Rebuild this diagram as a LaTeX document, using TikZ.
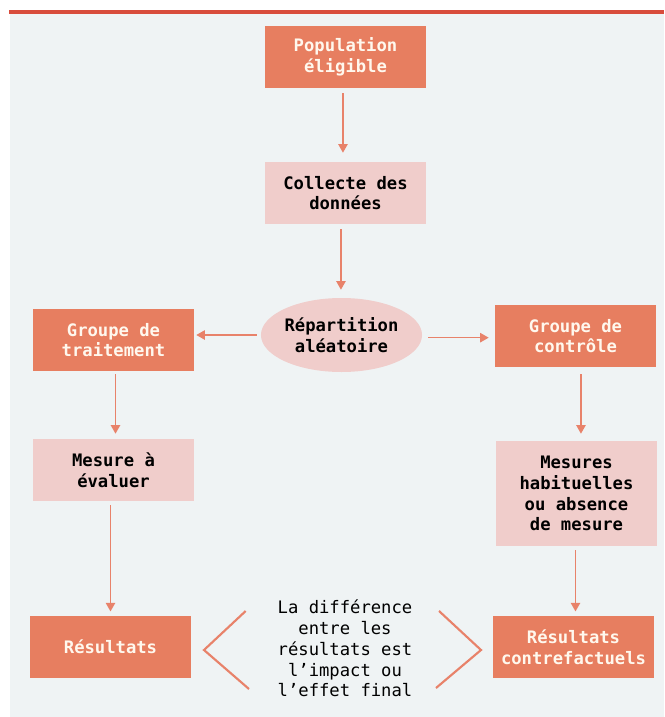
\documentclass[tikz,border=0pt]{standalone}
\usepackage{fontspec}
\setmonofont{DejaVu Sans Mono}
\usetikzlibrary{arrows.meta,shapes.geometric,calc}
\definecolor{orfill}{HTML}{E77E60}
\definecolor{pkfill}{HTML}{F0CDCB}
\definecolor{bgcol}{HTML}{EFF3F4}
\definecolor{redline}{HTML}{D84C3C}
\definecolor{cream}{HTML}{FFF8EE}
\definecolor{arrcol}{HTML}{E8826A}
\tikzset{
  basebox/.style={rectangle, inner sep=0pt, align=center, minimum width=120.75pt, minimum height=46.5pt,
    font=\ttfamily\bfseries\fontsize{12.9}{15.6}\selectfont},
  orbox/.style={basebox, fill=orfill, text=cream},
  pkbox/.style={basebox, fill=pkfill, text=black},
  arr/.style={draw=arrcol, line width=1.2pt, -{Triangle[width=7pt,length=6.5pt]}},
  chev/.style={draw=arrcol, line width=1.6pt},
}
\begin{document}
\begin{tikzpicture}[x=0.75pt,y=-0.75pt]
\useasboundingbox (0,0) rectangle (664,717);
\fill[bgcol] (10,14) rectangle (664,717);
\fill[redline] (9,10) rectangle (664,14);

\node[orbox] (pop) at (345.5,57) {Population\\éligible};
\node[pkbox] (coll) at (345.5,193) {Collecte des\\données};
\node[ellipse, fill=pkfill, inner sep=0pt, minimum width=120.75pt, minimum height=55.5pt, align=center,
  font=\ttfamily\bfseries\fontsize{12.9}{15.6}\selectfont] (ell) at (341.5,335) {Répartition\\aléatoire};
\node[orbox] (gt) at (113.5,340) {Groupe de\\traitement};
\node[orbox] (gc) at (575.5,336) {Groupe de\\contrôle};
\node[pkbox] (mes) at (113.5,470) {Mesure à\\évaluer};
\node[pkbox, minimum height=78.75pt] (mh) at (576.5,493.5) {Mesures\\habituelles\\ou absence\\de mesure};
\node[orbox] (res) at (110.5,647) {Résultats};
\node[orbox] (rc) at (573.5,647) {Résultats\\contrefactuels};
\node[align=center, inner sep=0pt, font=\ttfamily\fontsize{12.9}{15.56}\selectfont] (diff) at (345,648.5)
  {La différence\\entre les\\résultats est\\l’impact ou\\l’effet final};

\draw[arr, shorten <=3.75pt, shorten >=6.75pt] ([xshift=-1.9pt]pop.south) -- ([xshift=-1.9pt]coll.north);
\draw[arr, shorten <=3.75pt, shorten >=6pt] ([xshift=-3.4pt]coll.south) -- ([xshift=-3.4pt]coll.south |- ell.north);
\draw[arr, shorten <=3pt, shorten >=1.5pt] (ell.west) -- (ell.west -| gt.east);
\draw[arr, shorten <=4.5pt, shorten >=4.5pt] ([yshift=-2pt]ell.east) -- ([yshift=-2pt]ell.east -| gc.west);
\draw[arr, shorten <=2.25pt, shorten >=3.75pt] ([xshift=1.5pt]gt.south) -- ([xshift=1.5pt]mes.north);
\draw[arr, shorten <=5.25pt, shorten >=5.25pt] ([xshift=4.1pt]gc.south) -- ([xshift=4.1pt]gc.south |- mh.north);
\draw[arr, shorten <=3pt, shorten >=3.2pt] (res.north |- mes.south) -- (res.north);
\draw[arr, shorten <=3pt, shorten >=3.2pt] ([xshift=1.5pt]rc.north |- mh.south) -- ([xshift=1.5pt]rc.north);

\draw[chev] (245.7,611) -- (204,650) -- (249,689);
\draw[chev] (439,611) -- (481,650) -- (436,688);
\end{tikzpicture}
\end{document}
